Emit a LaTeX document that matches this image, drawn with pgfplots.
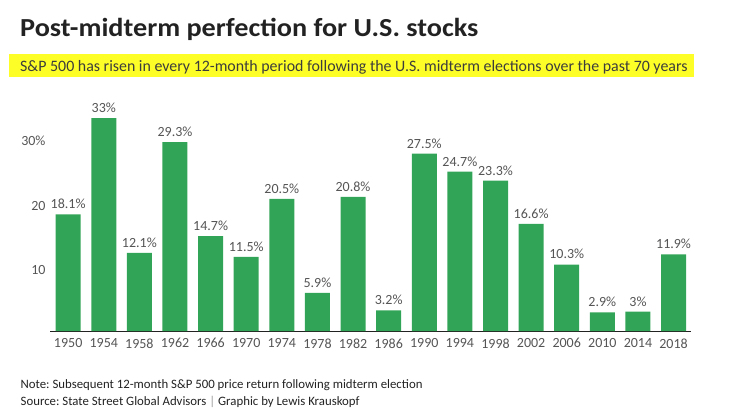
\documentclass[border=0pt]{standalone}
\usepackage{pgfplots}
\pgfplotsset{compat=1.18}
\usepackage{fontspec}
\setmainfont{Carlito}
\newfontfamily\titlefont[FakeStretch=1.085]{Carlito}
\definecolor{bargreen}{RGB}{50,164,87}
\definecolor{hl}{RGB}{253,253,40}
\definecolor{txt}{RGB}{34,34,34}
\definecolor{sub}{RGB}{60,60,60}
\definecolor{lbl}{RGB}{85,85,85}
\begin{document}
\frenchspacing
\begin{tikzpicture}[x=1bp,y=-1bp]
\useasboundingbox (0,0) rectangle (732,417);
\fill[hl] (9,54) rectangle (694,77);
\node[anchor=base west,inner sep=0,text=txt] at (20,36.7) {\titlefont\bfseries\fontsize{26bp}{30bp}\selectfont Post-midterm perfection for U.S. stocks};
\node[anchor=base west,inner sep=0,text=sub] at (20,71) {\fontsize{15.9bp}{19bp}\selectfont S\&P 500 has risen in every 12-month period following the U.S. midterm elections over the past 70 years};
\node[anchor=base west,inner sep=0,text=txt] at (20.5,388.3) {\fontsize{12.8bp}{15bp}\selectfont Note: Subsequent 12-month S\&P 500 price return following midterm election};
\node[anchor=base west,inner sep=0,text=txt] at (20.5,405) {\fontsize{12.8bp}{15bp}\selectfont Source: State Street Global Advisors {\color{lbl!60}|} Graphic by Lewis Krauskopf};
\begin{axis}[
  at={(50bp,-331bp)}, anchor=south west,
  scale only axis, width=641bp, height=225.75bp,
  xmin=-0.51, xmax=17.49, ymin=0, ymax=35,
  axis lines=left, y axis line style={draw=none},
  x axis line style={draw=txt, line width=0.8pt, -},
  major tick length=0pt,
  xtick={0,...,17},
  xticklabels={1950,1954,1958,1962,1966,1970,1974,1978,1982,1986,1990,1994,1998,2002,2006,2010,2014,2018},
  ytick={10,20,30}, yticklabels={10,20,30\%},
  tick label style={font=\fontsize{14bp}{16bp}\selectfont, text=lbl},
  /pgf/number format/assume math mode=true,
  xticklabel style={yshift=-4bp},
  yticklabel style={yshift=-3.5bp, xshift=-1bp},
  ybar, bar width=25bp, bar shift=0pt,
  nodes near coords={\pgfmathprintnumber{\pgfplotspointmeta}\%},
  every node near coord/.append style={font=\fontsize{14bp}{16bp}\selectfont, text=lbl, yshift=2bp},
  clip=false,
]
\addplot[fill=bargreen, draw=none] coordinates {
(0,18.1) (1,33) (2,12.1) (3,29.3) (4,14.7) (5,11.5) (6,20.5) (7,5.9) (8,20.8)
(9,3.2) (10,27.5) (11,24.7) (12,23.3) (13,16.6) (14,10.3) (15,2.9) (16,3) (17,11.9)};
\end{axis}
\end{tikzpicture}
\end{document}
